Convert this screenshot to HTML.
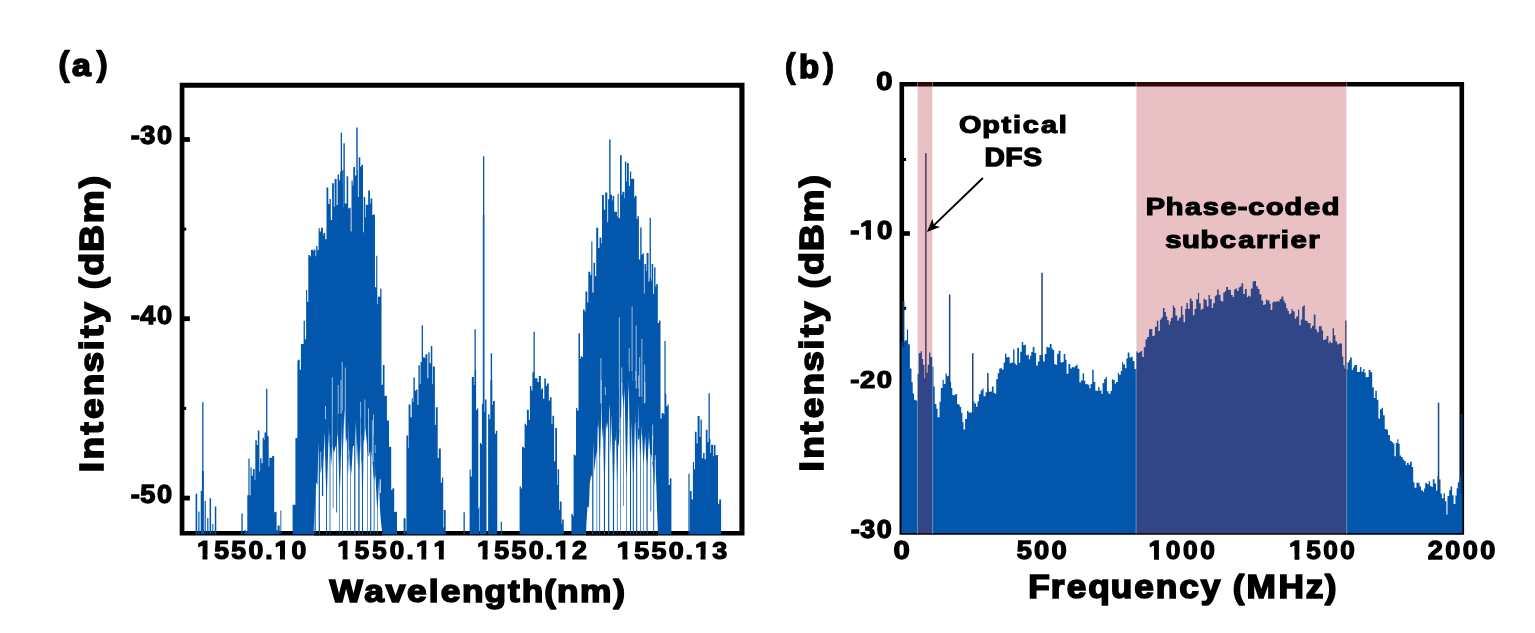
<!DOCTYPE html>
<html lang="en"><head><meta charset="utf-8"><title>Optical and electrical spectra</title>
<style>
html,body{margin:0;padding:0;background:#fff}
svg{display:block}
text{font-family:'Liberation Sans', sans-serif;font-weight:bold;fill:#000;stroke:#000;stroke-linejoin:miter;stroke-miterlimit:2}
</style></head>
<body>
<svg width="1535" height="633" viewBox="0 0 1535 633">
<rect width="1535" height="633" fill="#fff"/>
<g id="plot-a">
<path d="M179.7 82.8H744.5V535.6H179.7ZM184.4 87.8V530.9H739.4V87.8Z" fill="#000" fill-rule="evenodd"/>
<rect x="184" y="137.1" width="5.9" height="4.8" fill="#000"/>
<rect x="184" y="316.3" width="5.9" height="4.8" fill="#000"/>
<rect x="184" y="495.7" width="5.9" height="4.8" fill="#000"/>
<rect x="184" y="227.6" width="2.2" height="3" fill="#000"/>
<rect x="184" y="406.9" width="2.2" height="3" fill="#000"/>
<path d="M195.6 534.2V493.7h1.6V534.2ZM198.3 534.2V511.4h1.2V534.2ZM200.7 534.2V491h1.4V534.2ZM202.2 534.2V402.2h1.3V534.2ZM201.9 534.2V471h2V534.2ZM204.6 534.2V501h1.2V534.2ZM207.2 534.2V518h1.2V534.2ZM209.6 534.2V498.3h1.5V534.2ZM212.3 534.2V524h1V534.2ZM214.8 534.2V506.4h1.5V534.2ZM241.4 534.2V513.5h1.3V534.2ZM463.5 534.2V512.3h1.3V534.2ZM500.7 534.2V521.8h1.2V534.2ZM244.4 534.2V530.2H246.1V531.3H247.3V495.2H249.3V495.2H250.5V467.5H251.7V475.7H252.9V468.9H254.7V480H255.3V440.3H256.8V445H257.8V430.4H259.4V471.5H260.1V458.3H261.5V463.3H262.6V437.7H263.9V440.3H264.5V432.5H266.2V436.4H266.7V436.2H268.7V466.5H269.3V457.8H271.4V457.8H272.2V456.1H274.2V512.2H275.3V511.7H276.6V530.2H277.6V525.6H279.7V534.2H280.4V510.5H281.3V534.2ZM248.4 534.2V458.6h1.2V534.2ZM266.1 534.2V388.8h1.3V534.2ZM403.6 534.2V518.3H405.6V534.2H406.4V435.4H408.1V448H408.6V404.5H410.5V417.2H411.7V398.2H412.8V402H413.4V377.6H414.8V390.8H416.1V389.5H417.5V404.7H418.4V365.2H419.8V384.1H420.5V362.1H421.7V366.8H422.7V357.2H424.8V358.3H425.4V354.3H427.4V378.3H428.3V352.3H429.6V363.3H430.8V346.1H432.3V384.3H432.9V366.5H434.9V424.8H435.8V407.3H437.7V457.9H438.8V448.4H440.8V482.4H442V477.6H443.2V527.6H443.8V510H445.7V534.2ZM421.7 534.2V325.3h1.3V534.2ZM519.6 534.2V486.5H521V488.4H522V446.8H523.7V448.1H524.6V423.7H526V425.4H526.9V409.8H528.8V419.8H529.9V386.1H531.4V390.4H532.4V372.2H534.4V378.2H535.5V378.2H537.5V382H538.8V376.1H540.9V389.4H541.8V388.2H543V398.7H544.3V378.5H545.9V386H546.9V383.6H548.8V400.5H549.9V397.3H551.6V424.3H552.4V415.8H554.1V461.3H555.2V428H557V485H557.6V469.3H559.1V509.7H559.8V501.5H561.6V524H562.1V519.4H563.7V534.2ZM533.5 534.2V331.8h1.3V534.2ZM687 534.2V534.2H688.7V534.2H689.9V491H691.6V499.6H692.9V462H694V469.2H694.9V431.7H696.6V443.4H697.6V416H699.6V436.7H700.5V419.4H701.8V458.3H703.1V453.1H704.6V459.3H705.8V429.7H707.5V442.3H708.8V439.1H710.4V453.1H711.1V444.8H713.2V456.2H713.9V445.1H715.5V455.2H716.5V454.9H718V504H719.2V499.6H721.1V534.2H722V534.2H723.4V534.2ZM688.4 534.2V473.7h1.2V534.2ZM708.5 534.2V393.3h1.3V534.2ZM292.6 534.2V504.7H294.2V504.8H295.4V438.1H296.9V438.2H298V359.7H299.7V369.7H300.9V343.9H302.4V343.9H303.6V320.8H304.9V339.3H306.1V290.1H307.2V301.9H308.3V254.9H309.8V256.3H310.9V249.8H312.9V250.8H313.8V249.5H315.5V256.2H316.2V246H317.5V250.2H318.6V228.3H319.8V231.5H321V227.7H322.9V235.5H323.4V233.1H325.2V239.3H326.5V187.5H328.3V204.1H329.5V199H330.8V220H332.1V183.3H333.9V206.7H334.6V178.9H336.6V205H337.6V174.4H339.1V180.3H340.1V171.8H341.3V183.1H342.1V170.2H343.2V207.5H344.2V203.6H346V203.7H346.6V176.2H348.2V208.4H349.2V207.8H350.7V231.4H351.5V180.4H352.7V185.4H353.3V166.9H355.1V175.5H356.3V170.1H357.9V197H358.7V157.3H360.3V166.7H361.4V164.7H363V232.3H363.7V197H365.2V217.2H365.8V204.8H367.6V204.9H368.2V190.6H370V203.7H370.6V198.5H372.3V215.1H373.5V214.6H375V287.3H376.2V255.7H377.3V304.2H377.9V296.4H379.1V296.7H380.2V288.7H381.5V384.7H382.8V364.9H384.5V396.1H385.1V395.8H386.9V420.5H387.5V420.4H389V446.9H389.8V446.7H391.2V490H392.4V488.3H394.2V511.9H395V511.7H397V534.2H397.9V534.2H398.8V534.2ZM340.7 534.2V132.7h1.3V534.2ZM343.4 534.2V143.3h1.4V534.2ZM356.3 534.2V127.6h1.4V534.2ZM297.4 534.2V360.9h1.2V534.2ZM571.4 534.2V513.9H572.9V516.3H573.6V454.7H575.1V455.6H576V407.9H577.2V410.5H578.5V333.2H580V359.1H580.6V356.3H582V356.9H583V309.6H584.6V311.5H585.4V291.5H587.3V302.4H588.3V271.7H590.3V275H591.3V241.4H592.4V292.5H593.5V262.7H595.1V276.3H596.2V227.7H598.2V248H599.5V237.5H601.4V243.3H602V195H603.9V209.7H605.2V192.5H607.3V222.2H608.1V199.3H609.5V200.3H610.2V194.7H612V200.5H612.6V196H614.2V211.8H615V211.7H617V216.5H617.6V193.8H618.7V218.2H620V155.3H621.7V194.8H622.4V191.8H624.4V198.3H624.9V161.5H626.2V181.5H626.9V162.9H628.8V185.9H629.9V171.6H631.2V179H632.4V178.7H634.2V197.4H634.8V195.7H636.6V219H637.4V216.3H638.9V259.4H640.2V227.4H641.6V254.9H642.3V253.6H643.9V293.5H644.5V264H646.1V271.1H646.6V252.9H648.5V281.5H649.4V277.9H651.1V280.8H651.6V264H653.2V293.8H654.1V267.3H655.5V286.6H656.2V284.1H657.8V323.1H659V320.5H660.5V418.5H661.6V412.9H663.6V414.5H664.9V393.8H666.3V406.2H667.5V404.4H668.7V485H669.8V478.3H671.4V534.2ZM609.2 534.2V139.5h1.4V534.2ZM649.6 534.2V217.8h1.3V534.2ZM664.4 534.2V340.9h1.2V534.2ZM469.6 534.2V469.6H470.7V476.6H471.8V377H473.9V384.9H474.4V370.1H476.1V410H477.2V408.3H478.3V508.7H478.9V506.7H479.4V534.2ZM474.5 534.2V329.3h1.3V534.2ZM479.9 534.2V443.1H481.1V444.3H481.9V403.8H483.8V411.9H485V399.5H486.5V534.2ZM483 534.2V156.2h1.3V534.2ZM482.8 534.2V215h1.7V534.2ZM488.1 534.2V414.3H489.5V419.2H490.3V380.2H492.3V404.7H493V401H494.8V433.8H495.8V430.8H497.3V534.2ZM490.7 534.2V353.3h1.4V534.2Z" fill="#0257ac"/>
<path d="M320.7 451.6V479.5M324.3 448.9V468.3M325.5 406V468.3M329.5 434.6V459.2M332.3 377.3V454.5M338.2 384.9V456.8M341 379.8V453.8M342.2 361.8V453.8M345.3 367.6V450.6M348.3 422.3V454.3M360.6 402.1V457.4M361.5 435V457.4M364.9 399.5V454.8M368.5 408.4V454.7M372.3 420.4V461.6M373.5 414.7V461.6M375.1 444.9V474.5M376.5 458.9V474.5M380.4 479V493M380.1 480.2V493M597.8 426.7V455.4M601.2 379.7V443.4M600.9 358V443.4M605.3 387.1V435.2M619.3 317.3V429.5M621.8 382.6V423.6M621.8 367.4V423.6M626.5 392.8V416.3M629.2 348.2V406.8M632.1 306.5V411.2M635.9 371V420.7M636.2 325.5V420.7M639.7 357V428.5M638.7 375.5V428.5M641.7 403.5V436.7M641.9 338.8V436.7M644.9 382V443.3M644.7 364.5V443.3M648.5 425.6V450.4M652.7 424.4V461.9M652.6 435.3V461.9M655.4 455.1V480.5M655 459.7V480.5" stroke="#fff" stroke-opacity="0.75" stroke-width="0.8" fill="none"/>
<path d="M313.5 535.2L313.9 525L315 504L315.9 482.3L317.5 484.9L318.4 442.3L319.5 469.5L320.8 473.5L321.7 466.1L322.6 440.5L323.4 468.2L324.4 435.4L325.3 430.9L326.5 441L327.9 417.7L328.8 442.6L329.9 447.6L331.1 465.8L332.5 445.4L333.9 453.6L335.3 447.5L336.7 443.9L337.5 434.6L338.8 438.7L340.2 439.7L340.9 427.3L342.4 471.6L343.3 440.5L344.3 409.1L345.7 443.4L346.9 437.6L348 476.2L348.8 450.9L349.9 447.8L351.3 475.2L352.9 446.1L354.3 446L355.9 421.3L357.1 466.3L357.9 443.1L359.2 451.4L360.1 444.6L361.7 463.6L362.9 441.9L364.4 439.8L365.2 427.6L366.7 440.7L367.7 453.6L369 456.7L369.7 452.4L370.5 450.5L371.3 451.7L372.4 461L374 480.6L375.3 473.9L376.7 481.2L378 486.6L378.8 475.2L380 509.6L381 522.4L382.6 535.2ZM586 535.2L586.4 524.2L587.5 506.5L588.8 507.7L589.7 483.7L591.2 475.1L592.3 477.9L593.3 440.2L594.3 472.3L595.5 458.7L596.3 453.4L597.1 451.3L598.4 419.1L599.4 440.2L600.3 430.5L601.1 407.4L602.2 439.2L603.2 423.6L604.6 446.1L605.4 423L606.1 423.4L606.9 430L608.4 418L609.8 404L610.6 455.5L611.7 415.4L613.3 415.3L614.4 440.5L615.7 440.7L617.1 417.1L617.9 447.2L619 442.6L620.1 416.7L621.1 417.7L622.3 393.2L623.6 406.8L625.2 383.9L626 401.7L627.5 386.4L628.3 392.2L629.3 374.1L630.1 405.3L631.4 406.8L632.8 431.2L633.8 425.8L634.9 422L635.7 422.6L637.1 389.1L638.1 439.1L639.1 440.1L640.2 432.2L641.5 435L642.3 426.7L643.7 445.6L644.5 436.7L645.3 436.3L646.8 440.4L648 446L649 437.3L650.2 453.6L651.4 455L652.8 466.1L654.1 479.1L654.9 485L655.7 466.6L657.1 510.9L658 535.2Z" fill="#fff"/>
<path d="M313.5 533.25H382.6M586 533.25H658" stroke="#000" stroke-width="4.7" fill="none"/>
<path d="M314.5 473.8h1.2V534.2h-1.2ZM318.7 439.5h1.2V534.2h-1.2ZM321.9 428.3h1.3V496h-1.3ZM324.1 419.2h4.9L327 491.6V534.2h-0.9V491.6ZM329.6 414.5h0.8V534.2h-0.8ZM332.8 414.4h0.6V508.6h-0.6ZM336.2 416.8h0.9V512.6h-0.9ZM337.5 413.8h4.5L340 491V534.2h-0.6V491ZM342 410.6h0.9V534.2h-0.9ZM346.9 414.3h0.7V534.2h-0.7ZM347.9 416.8h4.7L350.6 472.8V534.2h-0.6V472.8ZM354.2 419.9h1.2V534.2h-1.2ZM357.5 417.4h2.9L359.6 471.6V534.2h-1.3V471.6ZM361 414.8h2.9L363 491.2V534.2h-1V491.2ZM367.1 414.7h0.6V534.2h-0.6ZM370.2 421.6h1.1V534.2h-1.1ZM373.7 434.5h0.8V534.2h-0.8ZM374.4 453h5.9L377.7 508.3V534.2h-0.6V508.3ZM588.2 462h0.9V505.2h-0.9ZM592.2 432h1.2V534.2h-1.2ZM596.6 415.4h0.6V534.2h-0.6ZM598.1 403.4h3.3L600.1 458.8V534.2h-0.8V458.8ZM602.5 395.2h3.9L605 474.6V534.2h-1.1V474.6ZM608.1 390.4h1.2V534.2h-1.2ZM611.1 387h4.8L614.1 481V534.2h-1.2V481ZM615.5 389.5h3.4L617.6 483.4V534.2h-0.7V483.4ZM620.4 383.6h0.6V534.2h-0.6ZM623.3 376.3h0.6V505.9h-0.6ZM624.2 366.8h4.6L626.8 478V534.2h-0.6V478ZM628.6 371.2h4L631 460.8V534.2h-1V460.8ZM630.9 380.7h4.8L633.8 474.6V534.2h-1V474.6ZM634.5 388.5h4.3L637.2 451.8V534.2h-1.1V451.8ZM638.3 396.7h4.1L640.7 457V534.2h-0.7V457ZM640.7 403.3h5.8L643.9 462.5V534.2h-0.6V462.5ZM644.2 410.4h5.6L647.6 466.3V534.2h-1.1V466.3ZM650.4 421.9h0.8V511.4h-0.8ZM653.3 440.5h0.9V534.2h-0.9Z" fill="#0257ac"/>
</g>
<g id="plot-b">
<path d="M899.5 82.1H1464.1V534.7H899.5ZM904.1 86.6V530.1H1459.5V86.6Z" fill="#000" fill-rule="evenodd"/>
<rect x="904" y="231.2" width="5.9" height="4.6" fill="#000"/>
<rect x="904" y="158" width="2.1" height="3" fill="#000"/>
<rect x="904" y="306.8" width="2.1" height="3" fill="#000"/>
<path d="M901.5 533.1V341.2H903V342.3H904.5V340.4H905.7V340.2H906.9V329.4H908.1V344.3H909.9V368.4H911.5V382.2H912.7V393.6H914V399.8H915.7V400.6H917.4V373.7H918.7V353.2H920.6V351.3H921.9V358.9H923V364.8H924.4V378.2H926.2V372.7H927.7V364.7H929.1V352.5H930.4V356.9H932.3V366.7H933.5V386.6H934.7V404H936.4V408.7H937.6V417.3H939.5V401.8H940.8V388H942.6V379.7H943.8V384.1H945.5V373.6H946.8V376.3H948.1V375.8H949.5V382H951.1V387.9H952.3V394.9H953.6V395.2H955.3V393.9H957.1V404H958.6V404.8H959.8V407.1H961.2V412.7H962.4V422.2H963.5V429.6H965.1V418.9H967V410.8H968.4V412.6H969.8V412.5H971.6V412.6H973.3V401.2H974.4V403.4H976V406.8H977.5V401.5H978.9V394.3H980.6V390.5H982.3V388.5H983.6V396.2H985.5V392.3H987.3V389.6H988.8V391.9H990V391.4H991.9V386.6H993.6V393.1H995V393.8H996.2V379.2H997.7V373.3H999.2V368.6H1000.6V368.1H1001.8V369.5H1003.6V362.5H1005V353.6H1006.3V357.3H1008.1V357H1009.6V363.2H1011.4V362.4H1013.1V349.5H1014.5V363.5H1015.8V365H1017.2V347.7H1019V362.7H1020.2V351.8H1021.7V342H1023.2V345.2H1024.5V344.7H1025.9V355.3H1027.6V354.6H1028.8V359.2H1030.1V355.7H1031.3V352.1H1032.7V347.1H1034.4V352.9H1036.1V365.6H1037.8V361.6H1039.4V354.9H1041.2V355.5H1043.1V361.4H1044.7V354H1046.4V346.9H1048.2V347.5H1049.8V343.9H1051.6V348.6H1052.7V349.9H1054.2V363.9H1055.4V364.7H1057.1V354H1058.6V350.7H1060.5V362.6H1062.3V362H1063.7V353.9H1065.3V359.7H1066.6V373.8H1068.4V363.9H1070.3V368.5H1071.8V366.9H1073.4V367.6H1074.9V366H1076.4V364.6H1077.6V368.8H1079.4V382.4H1080.9V380.4H1082.7V373.3H1084.1V380.7H1085.3V384.2H1086.4V384.1H1087.7V384.8H1089.3V388.3H1090.6V384H1092.2V369.8H1093.7V381.9H1095.3V390.4H1096.9V391H1098.2V387H1099.5V390.5H1101.4V394.1H1102.6V383.1H1104.2V378.9H1105.7V377.1H1106.9V391.2H1108.5V393.8H1110.4V391H1111.9V379.2H1113.2V380.1H1114.7V383.7H1115.9V382.1H1117.8V372.7H1118.9V374.7H1120.7V371H1122.1V362.1H1123.2V364.6H1125V368.2H1126.4V358.5H1127.7V352.6H1129.4V357.6H1131.2V356.8H1132.7V361H1134.5V369H1136.2V351.4H1137.6V352.9H1139.3V351.9H1140.7V350.9H1142.2V357H1143.8V347.2H1145.5V339.4H1147.1V337.1H1149V329.3H1150.6V329.1H1152.3V335.9H1153.8V335.6H1154.9V326.8H1156.8V320.8H1158.3V331.1H1159.9V319.6H1161.6V317.2H1162.9V307.9H1164.5V311.9H1165.9V316.6H1167.2V320.3H1168.8V324.8H1169.9V321.4H1171V317.7H1172.8V305.6H1174V307.8H1175.4V315.4H1177.3V320.6H1179V317.4H1180.9V306.3H1182.3V314.8H1183.5V322.2H1185.1V308.9H1186.4V303.1H1187.9V308.7H1189.8V298.5H1191.5V301H1192.9V315.3H1194.5V309H1196.2V299.2H1198V292.9H1199.1V303.3H1200.7V309.9H1201.9V308.8H1203.5V298.8H1205V300.1H1206.8V306.5H1208.5V294.9H1209.9V298.9H1211.7V308H1213.1V303.2H1214.8V296.2H1215.9V295.2H1217.1V289.6H1218.7V294.8H1220.5V300.8H1221.6V301.6H1223.3V292.6H1225V291H1226.2V286.9H1228V289.9H1229.5V289.7H1230.9V295H1232.7V296.9H1234.1V289.5H1235.5V288.6H1237.1V291H1238.6V287.5H1239.9V286.6H1241.5V283.3H1243.2V293.9H1244.9V288.9H1246.8V297.3H1248V295.8H1249.2V296.4H1250.8V288.6H1252.6V281.6H1254.1V281.1H1256V286.2H1257.7V289H1259.5V294.3H1261.4V300.5H1263.1V305H1264.5V304.2H1265.9V299.6H1267.2V300.8H1268.3V300.2H1269.5V303.7H1270.7V310H1272.3V302.6H1273.5V301.4H1275.2V302.2H1276.5V301.1H1278.2V301.4H1279.7V299H1281.5V296.6H1283.4V300.8H1284.7V303.3H1286.1V308.2H1287.6V310.9H1288.9V314.3H1290.3V313.3H1291.5V308.9H1292.8V311.2H1294.7V318.7H1296.2V316.5H1298V309.6H1299.2V325.2H1300.7V319.5H1302.2V306.6H1303.7V305.3H1304.8V320.5H1306.3V321H1307.7V322.9H1309.2V323H1310.6V328.3H1312V325.8H1313.8V314.4H1315.5V329.5H1317V332.3H1318.8V326.3H1320.3V326.3H1321.7V330.6H1323.1V340.1H1324.8V339.3H1326.6V335.9H1328.4V343.3H1329.6V341.5H1331V343.1H1332.6V328.3H1334V335.3H1335.4V341.5H1337.2V344.6H1338.6V343.5H1340.2V343.6H1342V356.6H1343.3V365.2H1344.5V368.5H1346.3V369.6H1347.5V362.6H1348.9V360.3H1350.1V357.5H1351.8V369.9H1353V367.5H1354.2V365.1H1355.8V364.9H1357.1V372.1H1358.3V372H1359.9V367.1H1361.4V371.8H1363.2V369H1364.4V372.7H1365.7V377.2H1367.4V377.1H1368.7V369.9H1370.5V372.2H1372.2V387.2H1373.8V397.9H1375.3V390.7H1376.8V399.8H1378.4V418.4H1380V409.5H1381.6V407.8H1383V415.2H1384.7V428.9H1386.6V429.7H1388V435.1H1389.9V440.8H1391.7V442.1H1392.8V443.5H1394.4V456.3H1395.8V442.9H1397.3V439.3H1398.4V443.7H1399.7V455.5H1401V457.1H1402.7V459.5H1404.1V461.1H1405.7V465.3H1406.8V462.7H1408.7V464.8H1410V461.8H1411.8V466.9H1413.2V482.3H1414.5V487.7H1416.4V482.8H1417.7V482.7H1419.5V486.5H1421V490.3H1422.8V491.7H1424.1V488.4H1425.2V483.1H1427V484.3H1428.7V481.3H1430.1V486H1431.5V486.9H1432.8V479.2H1434.5V483.5H1436.1V490.7H1437.4V476.2H1439V479.6H1440.5V493.5H1441.8V498.2H1443.6V493.2H1444.9V501.3H1446.4V514.5H1447.5V496.1H1449.2V490.2H1450.5V486.5H1452.1V495.2H1453.6V504H1455.4V495.6H1456.6V488.2H1457.8V482.2H1459.6V476.6H1461.3V473.6H1462.4V533.1Z" fill="#0257ac"/>
<path d="M925.1 383V153.2h1.5V383ZM948.9 386V294.5h1.5V386ZM972 414.5V353.2h1.5V414.5ZM987.1 397.5V373h1.5V397.5ZM1041.3 364V272.8h1.5V364ZM1345.2 374V320.4h1.5V374ZM1437.8 493V402.7h1.5V493Z" fill="#1d477d"/>
<rect x="1460.6" y="414" width="1.9" height="80" fill="#0a2f66"/>
<rect x="902.2" y="301" width="2.1" height="46" fill="#0a2f66"/>
<rect x="917.5" y="82.1" width="14.9" height="452" fill="#af1924" fill-opacity="0.274"/>
<rect x="1136.3" y="82.1" width="210.2" height="452" fill="#af1924" fill-opacity="0.274"/>
<path d="M917.4 82.1V534M932.6 82.1V534M1136.1 82.1V534M1346.7 82.1V534" stroke="#fff" stroke-opacity="0.4" stroke-width="0.9" fill="none"/>
<path d="M982.9 178L933 226.1" stroke="#000" stroke-width="1.9" fill="none"/>
<path d="M926.9 232L932.4 219L933.9 225.2L940.1 226.9Z" fill="#000"/>
</g>
<g id="labels">
<g transform="matrix(1.1023 0.0000 0.0000 1.0413 58.12 76.15)"><text style="font-size:33px;stroke-width:1.65px;letter-spacing:3.2px"><tspan style="stroke-width:.7px">(</tspan><tspan style="font-size:30.6px" dx="-1.6" dy="-0.6">a</tspan><tspan style="stroke-width:.7px" dx="1.6" dy="0.6">)</tspan></text></g>
<g transform="matrix(1.0533 0.0000 0.0000 1.0540 784.48 78.36)"><text style="font-size:33px;stroke-width:1.65px;letter-spacing:3.2px"><tspan style="stroke-width:.7px">(</tspan><tspan style="font-size:31.2px" dx="-0.5" dy="-0.8">b</tspan><tspan style="stroke-width:.7px" dx="0.5" dy="0.8">)</tspan></text></g>
<g transform="matrix(0.0000 -1.1219 1.0227 0.0000 103.13 470.60)"><text x="-1.42 9.85 32.07 46.03 66.31 87.51 107.09 118.51 131.58 151.16 161.72 173.90 195.01 220.48 251.71" style="font-size:33px;stroke-width:1.65px">Intensity (dBm)</text></g>
<g transform="matrix(0.0000 -1.1219 1.0309 0.0000 823.13 469.90)"><text x="-1.42 9.85 32.07 46.03 66.31 87.51 107.09 118.51 131.58 151.16 161.72 173.90 195.01 220.48 251.71" style="font-size:33px;stroke-width:1.65px">Intensity (dBm)</text></g>
<g transform="matrix(1.0426 0.0000 0.0000 0.9899 130.94 144.16)"><text x="-0.20 8.92 24.95" style="font-size:26px;stroke-width:1.3px">-30</text></g>
<g transform="matrix(1.0426 0.0000 0.0000 1.0026 130.94 323.50)"><text x="-0.20 8.92 24.95" style="font-size:26px;stroke-width:1.3px">-40</text></g>
<g transform="matrix(1.0452 0.0000 0.0000 0.9974 130.94 503.00)"><text x="-0.20 8.92 24.95" style="font-size:26px;stroke-width:1.3px">-50</text></g>
<g transform="matrix(1.0237 0.0000 0.0000 0.9590 198.00 559.38)"><text x="-1.06 15.77 32.59 49.41 65.64 74.63 91.46" style="font-size:26px;stroke-width:1.3px">1550.10</text><rect x="-0.97" y="-4.90" width="5.33" height="7.15" fill="#fff"/><rect x="9.23" y="-4.90" width="5.00" height="7.15" fill="#fff"/><rect x="74.72" y="-4.90" width="5.33" height="7.15" fill="#fff"/><rect x="84.92" y="-4.90" width="5.00" height="7.15" fill="#fff"/></g>
<g transform="matrix(1.0000 0.0000 0.0000 0.9590 338.30 559.38)"><text x="-1.06 16.44 33.94 51.44 68.17 77.67 95.17" style="font-size:26px;stroke-width:1.3px">1550.11</text><rect x="-0.97" y="-4.90" width="5.33" height="7.15" fill="#fff"/><rect x="9.23" y="-4.90" width="5.00" height="7.15" fill="#fff"/><rect x="77.76" y="-4.90" width="5.33" height="7.15" fill="#fff"/><rect x="87.96" y="-4.90" width="5.00" height="7.15" fill="#fff"/><rect x="95.26" y="-4.90" width="5.33" height="7.15" fill="#fff"/><rect x="105.46" y="-4.90" width="5.00" height="7.15" fill="#fff"/></g>
<g transform="matrix(1.0318 0.0000 0.0000 0.9590 478.00 559.38)"><text x="-1.06 15.71 32.48 49.25 65.44 74.40 91.17" style="font-size:26px;stroke-width:1.3px">1550.12</text><rect x="-0.97" y="-4.90" width="5.33" height="7.15" fill="#fff"/><rect x="9.23" y="-4.90" width="5.00" height="7.15" fill="#fff"/><rect x="74.49" y="-4.90" width="5.33" height="7.15" fill="#fff"/><rect x="84.69" y="-4.90" width="5.00" height="7.15" fill="#fff"/></g>
<g transform="matrix(1.0347 0.0000 0.0000 0.9468 617.90 559.15)"><text x="-1.06 15.71 32.48 49.25 65.44 74.40 91.17" style="font-size:26px;stroke-width:1.3px">1550.13</text><rect x="-0.97" y="-4.90" width="5.33" height="7.15" fill="#fff"/><rect x="9.23" y="-4.90" width="5.00" height="7.15" fill="#fff"/><rect x="74.49" y="-4.90" width="5.33" height="7.15" fill="#fff"/><rect x="84.69" y="-4.90" width="5.00" height="7.15" fill="#fff"/></g>
<g transform="matrix(1.0714 0.0000 0.0000 0.9485 328.50 601.79)"><text x="0.91 33.39 53.39 73.38 93.62 104.68 124.65 145.52 167.48 180.28 201.39 213.33 234.82 265.73" style="font-size:33px;stroke-width:1.65px">Wavelength(nm)</text></g>
<g transform="matrix(1.1259 0.0000 0.0000 0.9795 876.24 89.92)"><text style="font-size:26px;stroke-width:1.3px;letter-spacing:1.3px">0</text></g>
<g transform="matrix(1.0632 0.0000 0.0000 0.9923 850.53 238.81)"><text x="-0.20 8.92 24.95" style="font-size:26px;stroke-width:1.3px">-10</text><rect x="9.01" y="-4.90" width="5.33" height="7.15" fill="#fff"/><rect x="19.21" y="-4.90" width="5.00" height="7.15" fill="#fff"/></g>
<g transform="matrix(1.0529 0.0000 0.0000 0.9333 850.54 388.20)"><text x="-0.20 8.92 24.95" style="font-size:26px;stroke-width:1.3px">-20</text></g>
<g transform="matrix(1.0348 0.0000 0.0000 0.9873 850.94 537.61)"><text x="-0.20 8.92 24.95" style="font-size:26px;stroke-width:1.3px">-30</text></g>
<g transform="matrix(1.1259 0.0000 0.0000 0.9692 893.44 558.87)"><text style="font-size:26px;stroke-width:1.3px;letter-spacing:1.3px">0</text></g>
<g transform="matrix(1.0519 0.0000 0.0000 0.9692 1016.70 558.87)"><text x="-0.06 16.54 33.14" style="font-size:26px;stroke-width:1.3px">500</text></g>
<g transform="matrix(1.0141 0.0000 0.0000 0.9692 1149.60 558.87)"><text x="-1.06 15.92 32.90 49.87" style="font-size:26px;stroke-width:1.3px">1000</text><rect x="-0.97" y="-4.90" width="5.33" height="7.15" fill="#fff"/><rect x="9.23" y="-4.90" width="5.00" height="7.15" fill="#fff"/></g>
<g transform="matrix(1.0078 0.0000 0.0000 0.9692 1290.10 558.87)"><text x="-1.06 15.92 32.90 49.87" style="font-size:26px;stroke-width:1.3px">1500</text><rect x="-0.97" y="-4.90" width="5.33" height="7.15" fill="#fff"/><rect x="9.23" y="-4.90" width="5.00" height="7.15" fill="#fff"/></g>
<g transform="matrix(1.0438 0.0000 0.0000 0.9692 1428.10 558.87)"><text x="-0.31 16.42 33.15 49.88" style="font-size:26px;stroke-width:1.3px">2000</text></g>
<g transform="matrix(1.0681 0.0000 0.0000 1.0186 1029.60 598.44)"><text x="-1.31 19.90 34.69 54.86 75.93 97.91 118.08 140.06 160.25 179.75 190.25 203.05 232.95 258.56 276.24" style="font-size:33px;stroke-width:1.65px">Frequency (MHz)</text></g>
<g transform="matrix(1.1531 0.0000 0.0000 0.9836 959.41 133.26)"><text x="-0.27 19.72 36.45 46.41 54.87 70.79 86.20" style="font-size:25px;stroke-width:1.25px">Optical</text></g>
<g transform="matrix(1.1293 0.0000 0.0000 1.0240 985.60 166.03)"><text x="-1.04 17.49 33.25" style="font-size:25px;stroke-width:1.25px">DFS</text></g>
<g transform="matrix(1.1576 0.0000 0.0000 0.9692 1146.90 215.47)"><text x="-1.07 16.29 32.98 48.31 63.65 78.43 87.64 102.96 118.97 135.66 150.98" style="font-size:25px;stroke-width:1.25px">Phase-coded</text></g>
<g transform="matrix(1.1720 0.0000 0.0000 0.9692 1165.30 248.47)"><text x="-0.07 14.32 30.06 46.48 62.22 77.42 87.89 98.45 106.77 121.97" style="font-size:25px;stroke-width:1.25px">subcarrier</text></g>
</g>
</svg>
</body></html>
